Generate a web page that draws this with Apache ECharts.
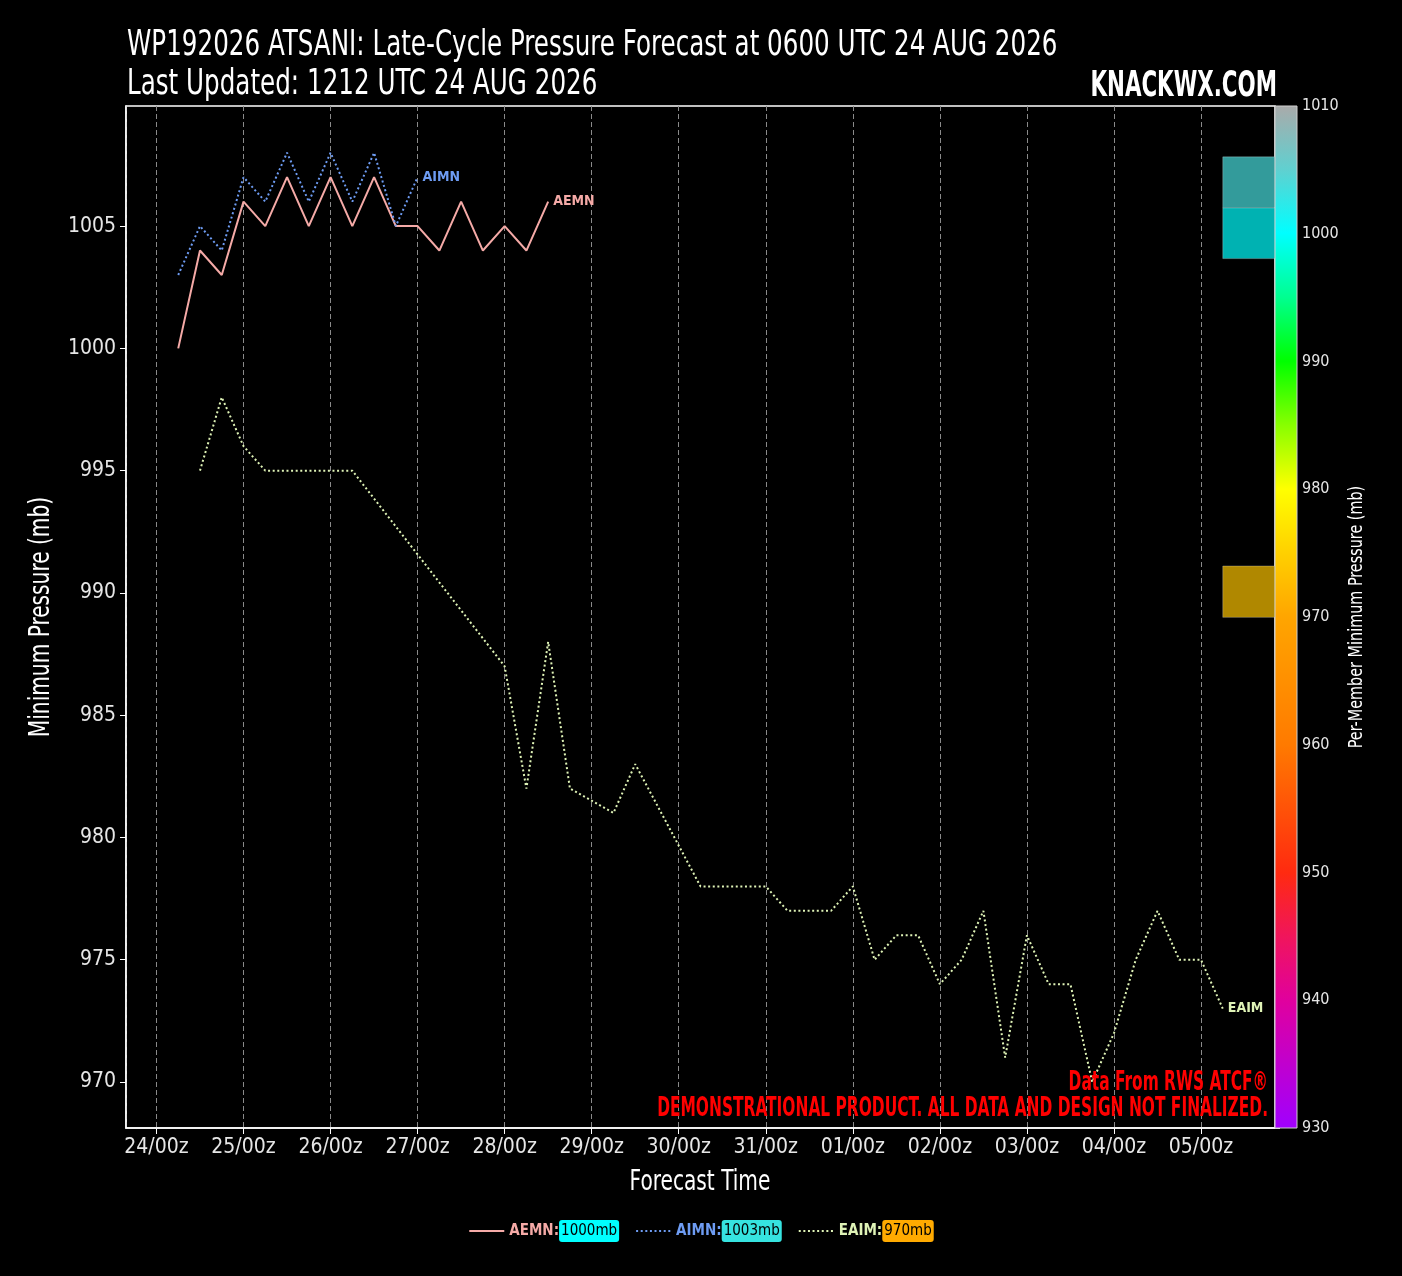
<!DOCTYPE html>
<html>
<head>
<meta charset="utf-8">
<script src="https://cdn.jsdelivr.net/npm/echarts@6/dist/echarts.min.js"></script>
<style>
  html, body { margin: 0; padding: 0; background: #000; }
  #chart { width: 1402px; height: 1276px; }
</style>
</head>
<body>
<div id="chart"></div>
<script>
var FONT = '"DejaVu Sans Condensed", "DejaVu Sans", sans-serif';
var HOUR = 3600 * 1000;
var baseTime = Date.UTC(2026, 7, 24, 6);   // tau 0 = 0600 UTC 24 AUG 2026

// ---- data ----
var memberNames = ['AEMN', 'AIMN', 'EAIM'];
var memberMinLabels = ['1000mb', '1003mb', '970mb'];

var aemnTau  = [0, 6, 12, 18, 24, 30, 36, 42, 48, 54, 60, 66, 72, 78, 84, 90, 96, 102];
var aemnPres = [1000, 1004, 1003, 1006, 1005, 1007, 1005, 1007, 1005, 1007, 1005, 1005, 1004, 1006, 1004, 1005, 1004, 1006];

var aimnTau  = [0, 6, 12, 18, 24, 30, 36, 42, 48, 54, 60, 66];
var aimnPres = [1003, 1005, 1004, 1007, 1006, 1008, 1006, 1008, 1006, 1008, 1005, 1007];

var eaimTau  = [6, 12, 18, 24, 30, 36, 42, 48, 90, 96, 102, 108, 120, 126, 144, 150, 156, 162, 168, 174, 180,
                186, 192, 198, 204, 210, 216, 222, 228, 234, 240, 246, 252, 258, 264, 270, 276, 282, 288];
var eaimPres = [995, 998, 996, 995, 995, 995, 995, 995, 987, 982, 988, 982, 981, 983, 978, 978, 978, 978, 977, 977, 977,
                978, 975, 976, 976, 974, 975, 977, 971, 976, 974, 974, 970, 972, 975, 977, 975, 975, 973];

// per-member boxes on the right edge (pressure range, mb), order AEMN, AIMN, EAIM
var boxLow  = [1003.67, 1005.75, 989.0];
var boxHigh = [1005.75, 1007.83, 991.1];

var presTicks = [970, 975, 980, 985, 990, 995, 1000, 1005];
var cbTicks = [930, 940, 950, 960, 970, 980, 990, 1000, 1010];

// ---- styles ----
var lineColors  = ['#f5aaa7', '#6e9cf3', '#dff3b6'];
var lineTypes   = ['solid', [2, 2.6], [2, 2.6]];
var badgeColors = ['#00ffff', '#36e3e0', '#ffaa00'];
var boxColors   = ['#00b2b2', '#339b9b', '#b08800'];
var cbStops = [
  [930, '#a000ff'], [940, '#e0009e'], [945, '#f0155c'], [950, '#ff2a10'],
  [960, '#ff7a00'], [970, '#ffa500'], [975, '#ffd000'], [980, '#ffff00'],
  [985, '#88ff00'], [990, '#00ff00'], [995, '#00ff90'], [1000, '#00ffff'],
  [1005, '#60d0d0'], [1010, '#aaaaaa']
];

function pad(n) { return (n < 10 ? '0' : '') + n; }
function toPairs(tau, pres) {
  return tau.map(function (t, i) { return [baseTime + t * HOUR, pres[i]]; });
}

var lastTau = 288;
var xMin = baseTime - 0.05 * lastTau * HOUR;
var xMax = baseTime + 1.05 * lastTau * HOUR;

var seriesData = [toPairs(aemnTau, aemnPres), toPairs(aimnTau, aimnPres), toPairs(eaimTau, eaimPres)];

var chart = echarts.init(document.getElementById('chart'));

var lineSeries = memberNames.map(function (name, i) {
  return {
    name: name,
    type: 'line',
    xAxisIndex: 0, yAxisIndex: 0,
    data: seriesData[i],
    symbol: 'none',
    lineStyle: { color: lineColors[i], width: 2, type: lineTypes[i] },
    itemStyle: { color: lineColors[i] },
    endLabel: {
      show: true,
      formatter: name,
      color: lineColors[i],
      fontFamily: FONT,
      fontWeight: 'bold',
      fontSize: 14,
      distance: 5
    },
    z: 3
  };
});

var richLegend = {};
memberNames.forEach(function (n, i) {
  richLegend['n' + i] = { color: lineColors[i], fontWeight: 'bold', fontSize: 15, fontFamily: FONT };
  richLegend['b' + i] = { color: '#000', backgroundColor: badgeColors[i], borderRadius: 3,
                          padding: [4, 2, 3, 2], fontSize: 15, fontFamily: FONT };
});

function label(text, x, y, size, opts) {
  opts = opts || {};
  return {
    type: 'text', x: x, y: y, z: 10,
    rotation: opts.rotation || 0,
    scaleX: opts.scaleX || 1,
    style: {
      text: text,
      fill: opts.color || '#fff',
      font: (opts.bold ? 'bold ' : '') + size + 'px ' + FONT,
      align: opts.align || 'left',
      verticalAlign: 'middle'
    }
  };
}

var option = {
  useUTC: true,
  backgroundColor: '#000',
  animation: false,
  textStyle: { fontFamily: FONT },
  grid: [
    { left: 126, top: 106, width: 1149, height: 1022, show: true, borderColor: '#fff', borderWidth: 1.5, backgroundColor: '#000' },
    { left: 1275, top: 106, width: 22, height: 1022 }
  ],
  xAxis: [
    {
      type: 'time', gridIndex: 0,
      min: xMin, max: xMax,
      minInterval: 24 * HOUR, maxInterval: 24 * HOUR,
      axisLine: { show: true, lineStyle: { color: '#fff', width: 1.5 } },
      axisTick: { show: true, length: 6, lineStyle: { color: '#fff' } },
      axisLabel: {
        color: '#e6e6e6', fontSize: 21, fontFamily: FONT, margin: 9,
        showMinLabel: false, showMaxLabel: false,
        formatter: function (v) { var d = new Date(v); return pad(d.getUTCDate()) + '/' + pad(d.getUTCHours()) + 'z'; }
      },
      splitLine: { show: true, lineStyle: { color: '#8a8a8a', width: 1, type: [5, 3] } }
    },
    { type: 'value', gridIndex: 1, min: 0, max: 1, show: false }
  ],
  yAxis: [
    {
      type: 'value', gridIndex: 0,
      min: 968.12, max: 1009.91,
      axisLine: { show: true, lineStyle: { color: '#fff', width: 1.5 } },
      axisTick: { show: true, length: 6, lineStyle: { color: '#fff' }, customValues: presTicks },
      axisLabel: { color: '#e6e6e6', fontSize: 21, fontFamily: FONT, margin: 10, customValues: presTicks,
                   formatter: function (v) { return String(v); } },
      splitLine: { show: false }
    },
    {
      type: 'value', gridIndex: 1, position: 'right',
      min: 930, max: 1010, interval: 10,
      axisLine: { show: false },
      axisTick: { show: true, length: 5, lineStyle: { color: '#ddd' } },
      axisLabel: { color: '#e6e6e6', fontSize: 16, fontFamily: FONT, margin: 5,
                   formatter: function (v) { return String(v); } },
      splitLine: { show: false }
    }
  ],
  legend: {
    data: memberNames,
    bottom: 29,
    left: 'center',
    itemWidth: 35, itemHeight: 14, itemGap: 16,
    itemStyle: { opacity: 0 },
    formatter: function (name) {
      var i = memberNames.indexOf(name);
      return '{n' + i + '|' + name + ':}{b' + i + '|' + memberMinLabels[i] + '}';
    },
    textStyle: { rich: richLegend }
  },
  graphic: [
    label('WP192026 ATSANI: Late-Cycle Pressure Forecast at 0600 UTC 24 AUG 2026', 127, 46, 36, { scaleX: 0.76 }),
    label('Last Updated: 1212 UTC 24 AUG 2026', 127, 85, 36, { scaleX: 0.76 }),
    label('KNACKWX.COM', 1277, 87, 36, { bold: true, align: 'right', scaleX: 0.66 }),
    label('Data From RWS ATCF\u00ae', 1268, 1083, 26, { bold: true, align: 'right', color: '#ff0000', scaleX: 0.66 }),
    label('DEMONSTRATIONAL PRODUCT. ALL DATA AND DESIGN NOT FINALIZED.', 1268, 1109, 26, { bold: true, align: 'right', color: '#ff0000', scaleX: 0.66 }),
    label('Minimum Pressure (mb)', 42, 617, 28, { align: 'center', rotation: Math.PI / 2, scaleX: 0.8 }),
    label('Forecast Time', 700, 1183, 28, { align: 'center', scaleX: 0.8 }),
    label('Per-Member Minimum Pressure (mb)', 1357, 617, 20, { align: 'center', rotation: Math.PI / 2, scaleX: 0.8 })
  ],
  series: lineSeries.concat([
    {
      name: 'boxes',
      type: 'custom',
      xAxisIndex: 0, yAxisIndex: 0,
      data: boxLow.map(function (lo, i) { return [baseTime + lastTau * HOUR, lo, boxHigh[i], i]; }),
      renderItem: function (params, api) {
        var a = api.coord([api.value(0), api.value(2)]);
        var b = api.coord([xMax, api.value(1)]);
        var i = api.value(3);
        return {
          type: 'rect',
          shape: { x: a[0], y: a[1], width: b[0] - a[0], height: b[1] - a[1] },
          style: { fill: boxColors[i], stroke: 'rgba(255,255,255,0.25)', lineWidth: 1 }
        };
      },
      z: 2, silent: true
    },
    {
      name: 'colorbar',
      type: 'custom',
      xAxisIndex: 1, yAxisIndex: 1,
      data: [[0, cbTicks[0], cbTicks[cbTicks.length - 1]]],
      renderItem: function (params, api) {
        var p0 = api.coord([0, api.value(1)]);
        var p1 = api.coord([1, api.value(2)]);
        var lo = api.value(1), hi = api.value(2);
        var stops = cbStops.map(function (s) { return { offset: (s[0] - lo) / (hi - lo), color: s[1] }; });
        return {
          type: 'rect',
          shape: { x: p0[0], y: p1[1], width: p1[0] - p0[0], height: p0[1] - p1[1] },
          style: { fill: new echarts.graphic.LinearGradient(0, 1, 0, 0, stops), stroke: '#cfcfcf', lineWidth: 1 }
        };
      },
      silent: true
    }
  ])
};

chart.setOption(option);
</script>
</body>
</html>
